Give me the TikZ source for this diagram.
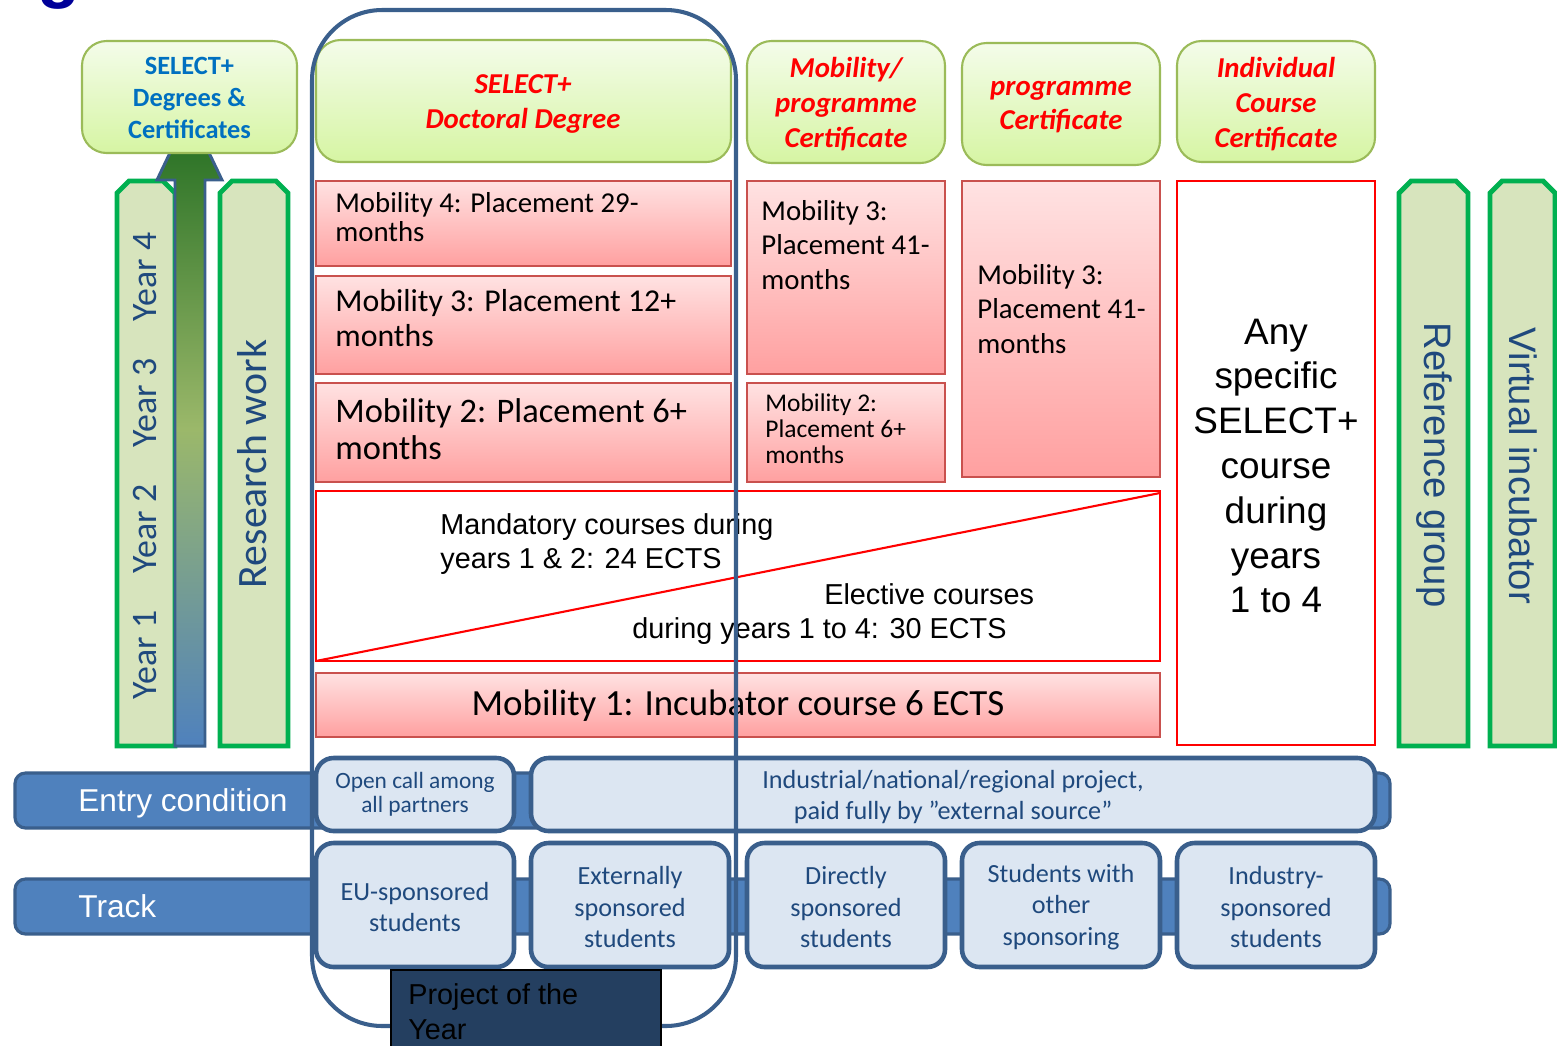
\documentclass[tikz,border=0pt]{standalone}
\usepackage{fontspec}
\setmainfont{Carlito}
\newfontfamily\arialfont{Liberation Sans}

\definecolor{pillargreen}{HTML}{D7E4BD}
\definecolor{pillarline}{HTML}{00B050}
\definecolor{navytext}{HTML}{1F497D}
\definecolor{barblue}{HTML}{4F81BD}
\definecolor{barline}{HTML}{3A5F8C}
\definecolor{lightblue}{HTML}{DCE6F2}
\definecolor{certtop}{HTML}{F4FCEA}
\definecolor{certbot}{HTML}{D6F5A3}
\definecolor{certline}{HTML}{9BBB59}
\definecolor{mobtop}{HTML}{FFE2E2}
\definecolor{mobbot}{HTML}{FFA0A0}
\definecolor{mobline}{HTML}{C9514E}
\definecolor{degblue}{HTML}{0070C0}
\definecolor{projectnavy}{HTML}{243F60}
\definecolor{titleblue}{HTML}{000099}
\definecolor{arrowgreen}{HTML}{1F6B1F}
\definecolor{arrowmid}{HTML}{9BB86A}

\tikzset{
  certbox/.style={draw=certline, line width=1.2pt, rounded corners=14pt, top color=certtop, bottom color=certbot},
  mobbox/.style={draw=mobline, line width=1.2pt, top color=mobtop, bottom color=mobbot},
  coursebox/.style={draw=red, line width=1.2pt, fill=white},
  pillar/.style={draw=pillarline, line width=2.8pt, fill=pillargreen},
  bar/.style={draw=barline, line width=1.8pt, fill=barblue, rounded corners=6pt},
  trackbox/.style={draw=barline, line width=2.6pt, fill=lightblue, rounded corners=10pt},
  certtext/.style={inner sep=0pt, align=center, text=red, font=\bfseries\itshape\fontsize{16.4pt}{19.8pt}\selectfont},
  mobtext/.style={inner sep=0pt, anchor=west, align=left},
  tracktext/.style={inner sep=0pt, align=center, text=navytext, font=\fontsize{14.9pt}{18.1pt}\selectfont},
  bartext/.style={inner sep=0pt, anchor=west, text=white, font=\arialfont\fontsize{18pt}{18pt}\selectfont},
  pillartext/.style={inner sep=0pt, text=navytext}
}

\begin{document}
\begin{tikzpicture}[x=0.02cm, y=-0.02cm]
  \useasboundingbox (0,0) rectangle (1557,1045);
  \node[anchor=base, inner sep=0pt, text=titleblue, font=\arialfont\bfseries\fontsize{40pt}{40pt}\selectfont] (title) at (59,-6) {g};

  \foreach \xa/\xb in {117/175, 220/288, 1399/1468, 1490/1555}
    \draw[pillar] (\xa,746) -- (\xa,193) -- (\xa+12,181) -- (\xb-12,181) -- (\xb,193) -- (\xb,746) -- cycle;

  \draw[draw=barline, line width=1.7pt, top color=arrowgreen, bottom color=barblue, middle color=arrowmid]
    (175,746) -- (175,180) -- (157,180) -- (189.5,112) -- (222,180) -- (205,180) -- (205,746) -- cycle;

  \foreach \n in {1,...,4}
    \node[pillartext, rotate=90, font=\fontsize{20.4pt}{20.4pt}\selectfont] (year\n) at (145,{655-(\n-1)*126}) {Year \n};
  \node[pillartext, rotate=90, font=\fontsize{23.8pt}{23.8pt}\selectfont] (research) at (252,464) {Research work};
  \node[pillartext, rotate=-90, font=\arialfont\fontsize{21.8pt}{21.8pt}\selectfont] (reference) at (1434,465) {Reference group};
  \node[pillartext, rotate=-90, font=\arialfont\fontsize{21.8pt}{21.8pt}\selectfont] (virtual) at (1523,466) {Virtual incubator};

  \draw[certbox] (82,41) rectangle (297,153);
  \node[inner sep=0pt, align=center, text=degblue, font=\bfseries\fontsize{15pt}{18.1pt}\selectfont] (degrees) at (189.5,98) {SELECT+\\Degrees \&\\Certificates};
  \draw[certbox] (316,40) rectangle (731,162);
  \node[certtext] (doctoral) at (523,104) {SELECT+\\Doctoral Degree};
  \draw[certbox] (747,41) rectangle (945,163);
  \node[certtext] (mobcert) at (846,104) {Mobility/\\programme\\Certificate};
  \draw[certbox] (962,43) rectangle (1160,165);
  \node[certtext] (progcert) at (1061,107) {programme\\Certificate};
  \draw[certbox] (1177,41) rectangle (1375,162);
  \node[certtext] (indcert) at (1276,104) {Individual\\Course\\Certificate};

  \draw[mobbox] (316,181) rectangle (731,266);
  \node[mobtext, font=\fontsize{16.4pt}{16.4pt}\selectfont] (mobfour) at (335,217) {Mobility 4: Placement 29-\\months};
  \draw[mobbox] (316,276) rectangle (731,374);
  \node[mobtext, font=\fontsize{18.1pt}{19.8pt}\selectfont] (mobthree) at (335,318) {Mobility 3: Placement 12+\\months};
  \draw[mobbox] (316,383) rectangle (731,482);
  \node[mobtext, font=\fontsize{19.6pt}{21pt}\selectfont] (mobtwo) at (335,429) {Mobility 2: Placement 6+\\months};
  \draw[mobbox] (747,181) rectangle (945,374);
  \node[mobtext, font=\fontsize{16.4pt}{19.8pt}\selectfont] (mobthreeb) at (761,245) {Mobility 3:\\Placement 41-\\months};
  \draw[mobbox] (747,383) rectangle (945,482);
  \node[mobtext, font=\fontsize{14.5pt}{14.7pt}\selectfont] (mobtwob) at (765,429) {Mobility 2:\\Placement 6+\\months};
  \draw[mobbox] (962,181) rectangle (1160,477);
  \node[mobtext, font=\fontsize{16.4pt}{19.8pt}\selectfont] (mobthreec) at (977,309) {Mobility 3:\\Placement 41-\\months};

  \draw[coursebox] (1177,181) rectangle (1375,745);
  \node[inner sep=0pt, align=center, font=\arialfont\fontsize{21pt}{25.5pt}\selectfont] (anycourse) at (1276,466) {Any\\specific\\SELECT+\\course\\during\\years\\1 to 4};

  \draw[coursebox] (316,491) rectangle (1160,661);
  \draw[red, line width=1.2pt] (316,661) -- (1160,493);
  \node[mobtext, font=\arialfont\fontsize{16.4pt}{19.8pt}\selectfont] (mandatory) at (440,544) {Mandatory courses during\\years 1 \& 2: 24 ECTS};
  \node[mobtext, font=\arialfont\fontsize{16.4pt}{19.8pt}\selectfont] (elective) at (632,614) {\hspace*{3.84cm}Elective courses\\during years 1 to 4: 30 ECTS};

  \draw[mobbox] (316,673) rectangle (1160,737);
  \node[inner sep=0pt, font=\fontsize{21pt}{21pt}\selectfont] (incubator) at (738,706) {Mobility 1: Incubator course 6 ECTS};

  \draw[bar] (15,773) rectangle (1390,828);
  \node[bartext] (entry) at (78,803) {Entry condition};
  \draw[trackbox] (316,758) rectangle (514,831);
  \node[tracktext, font=\fontsize{13.3pt}{13.6pt}\selectfont] (opencall) at (415,794) {Open call among\\all partners};
  \draw[trackbox] (531,758) rectangle (1375,831);
  \node[tracktext] (industrial) at (953,797) {Industrial/national/regional project,\\paid fully by ”external source”};

  \draw[bar] (15,879) rectangle (1390,934);
  \node[bartext] (track) at (78,906) {Track};
  \foreach \xa/\txt [count=\i] in {316/{EU-sponsored\\students}, 531/{Externally\\sponsored\\students}, 747/{Directly\\sponsored\\students}, 962/{Students with\\other\\sponsoring}, 1177/{Industry-\\sponsored\\students}}
    {
      \draw[trackbox] (\xa,843) rectangle (\xa+198,967);
      \node[tracktext] (sponsor\i) at (\xa+99,907) {\txt};
    }

  \draw[draw=barline, line width=2.3pt, rounded corners=40pt] (312,10) rectangle (736,1026);

  \draw[draw=black, line width=0.8pt, fill=projectnavy] (391,970) rectangle (661,1070);
  \node[mobtext, font=\arialfont\fontsize{16.4pt}{19.8pt}\selectfont] (project) at (408,1012) {Project of the\\Year};
\end{tikzpicture}
\end{document}
